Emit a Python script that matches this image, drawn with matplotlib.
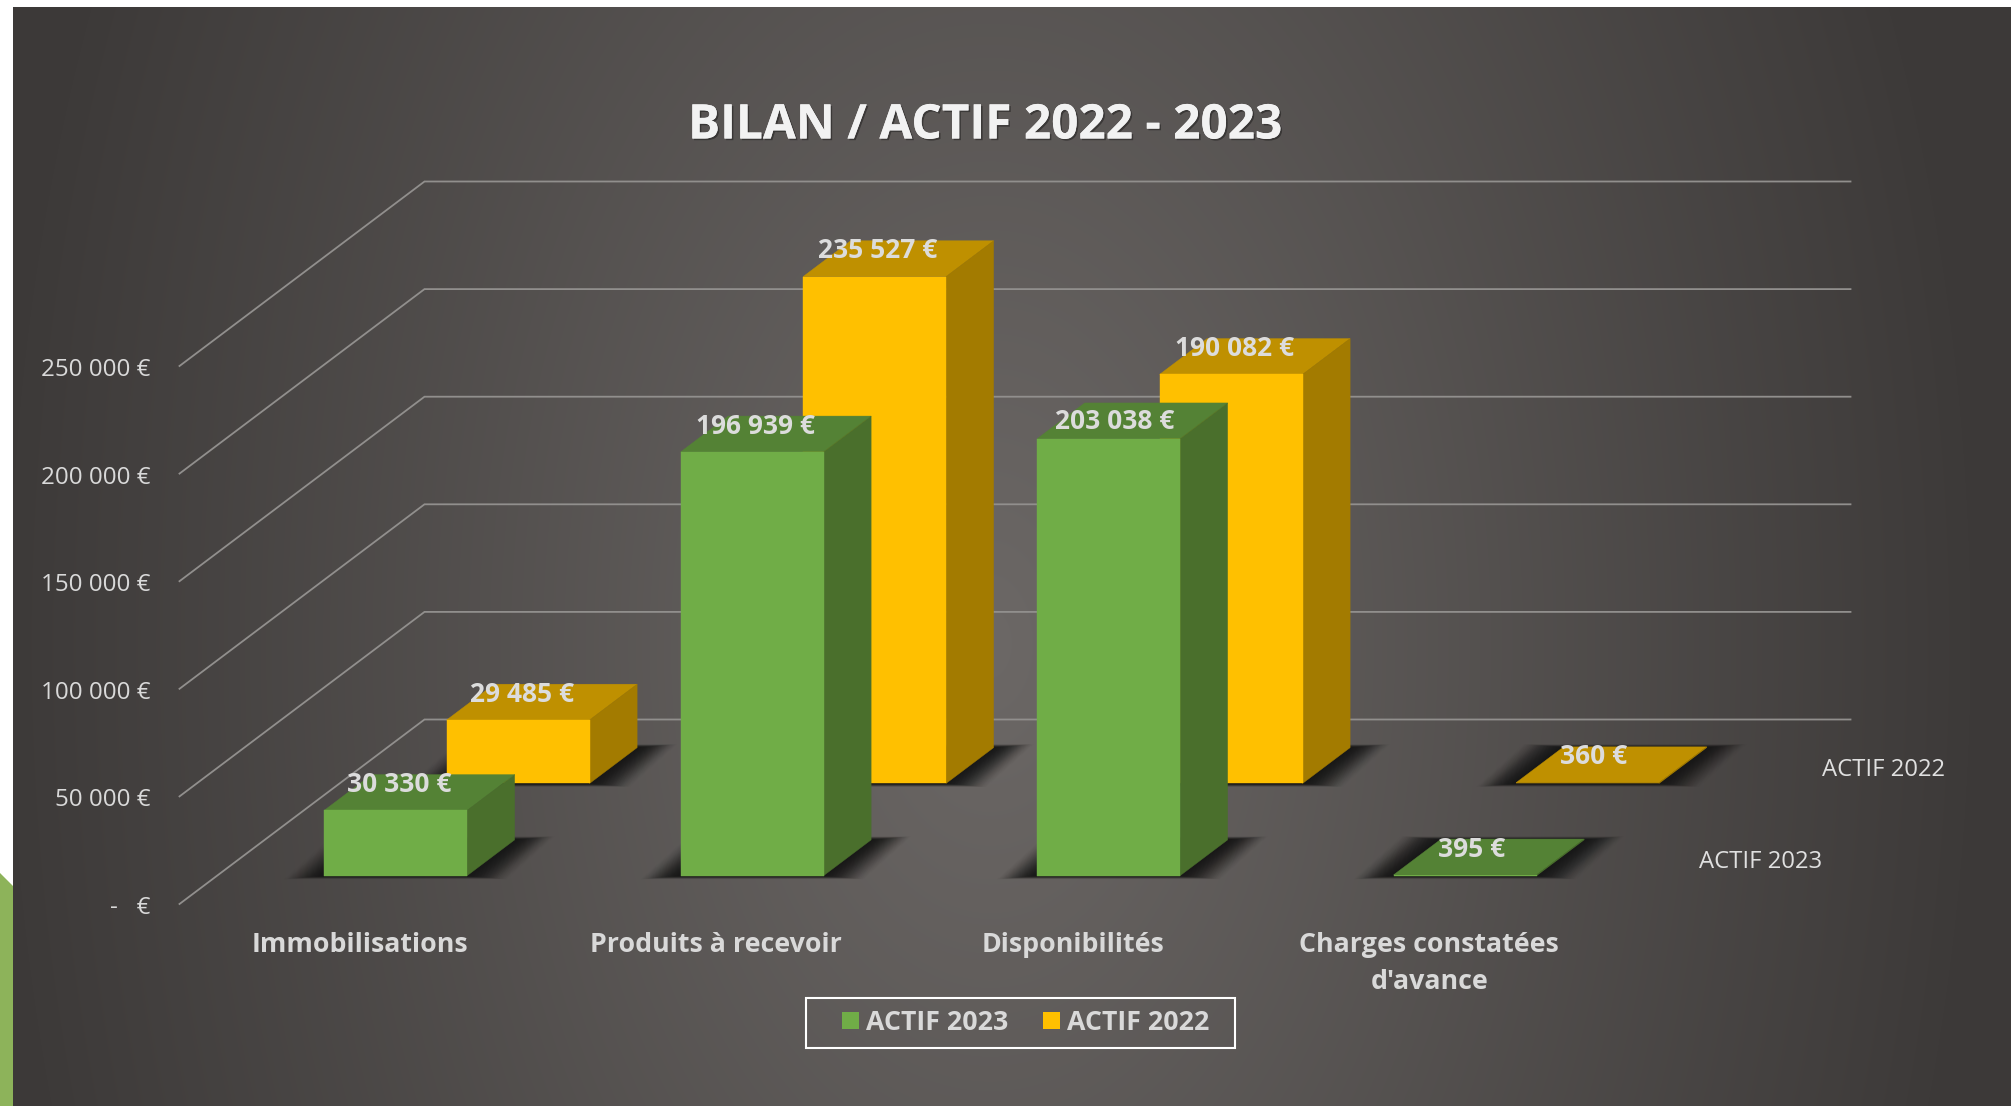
import numpy as np
import matplotlib
matplotlib.use('Agg')
from matplotlib import pyplot as plt
from matplotlib import patheffects
from matplotlib.patches import Patch, Polygon, Rectangle

categories = ['Immobilisations', 'Produits à recevoir', 'Disponibilités', "Charges constatées\nd'avance"]
actif_2023 = [30330, 196939, 203038, 395]
actif_2022 = [29485, 235527, 190082, 360]
labels_2023 = ['30 330 €', '196 939 €', '203 038 €', '395 €']
labels_2022 = ['29 485 €', '235 527 €', '190 082 €', '360 €']
y_ticks = [0, 50000, 100000, 150000, 200000, 250000]
y_tick_labels = ['-   €', '50 000 €', '100 000 €', '150 000 €', '200 000 €', '250 000 €']

W, H = 2011, 1106
PX_X = 356.5             # px per category
PX_Y = 107.6 / 50000     # px per euro
X0, Y0 = 179.5, 904      # where the front edge of the floor starts

DEPTH_X = 245 / PX_X     # wall offset, data units
DEPTH_Y = 184.5 / PX_Y
BAR_W = 0.401
BAR_D = 0.195


def proj(x, v, d):
    return x + d * DEPTH_X, v + d * DEPTH_Y


def px(x, y):
    return (x - X0) / PX_X, (Y0 - y) / PX_Y


def draw_bar(ax, cat, value, row, front, top, side):
    x = cat + 0.5 - BAR_W / 2 + 0.25 / PX_X
    d0 = row - BAR_D / 2 + 0.001
    d1 = row + BAR_D / 2
    # blurred floor shadow, stacked polygons, fainter towards the outside
    for k in range(30):
        ex = (40 - 1.3 * k) / PX_X
        ey = (3.5 - 0.12 * k) / PX_Y
        pts = [proj(x - ex, -ey, d0), proj(x + BAR_W + ex, -ey, d0),
               proj(x + BAR_W + ex, ey, d1), proj(x - ex, ey, d1)]
        ax.add_patch(Polygon(pts, closed=True, fc='#181818', ec='none', alpha=0.015 + 0.005 * k, zorder=2))
    ax.add_patch(Polygon([proj(x, value, d0), proj(x + BAR_W, value, d0),
                          proj(x + BAR_W, value, d1), proj(x, value, d1)],
                         closed=True, fc=top, ec=top, lw=0.3, zorder=3))
    ax.add_patch(Polygon([proj(x + BAR_W, 0, d0), proj(x + BAR_W, 0, d1),
                          proj(x + BAR_W, value, d1), proj(x + BAR_W, value, d0)],
                         closed=True, fc=side, ec=side, lw=0.3, zorder=3))
    ax.add_patch(Polygon([proj(x, 0, d0), proj(x + BAR_W, 0, d0),
                          proj(x + BAR_W, value, d0), proj(x, value, d0)],
                         closed=True, fc=front, ec=front, lw=0.3, zorder=3))


fig = plt.figure(figsize=(W / 100, H / 100), dpi=100, facecolor='white')
plt.rcParams['font.family'] = ['Open Sans', 'DejaVu Sans']
ax = fig.add_axes([0, 0, 1, 1])
xlim = (-X0 / PX_X, (W - X0) / PX_X)
ylim = ((Y0 - H) / PX_Y, Y0 / PX_Y)
ax.axis('off')

# panel background
yy, xx = np.mgrid[0:H, 0:W]
r = np.minimum(np.hypot((xx - 990) / 980, (yy - 643) / 1584), 1.0)[..., None]
grad = np.array([0x6c, 0x68, 0x66]) * (1 - r) + np.array([0x3d, 0x3a, 0x39]) * r
grad = grad / 255.0
grad[:7, :] = 1.0
grad[:, :13] = 1.0
ax.imshow(grad, extent=xlim + ylim, aspect='auto', zorder=0, origin='upper')
ax.set_xlim(xlim)
ax.set_ylim(ylim)

# left edge accent
ax.add_patch(Polygon([px(0, 873), px(13, 886), px(13, H), px(0, H)],
                     closed=True, fc='#8db35a', ec='none', zorder=1))

# walls
n = len(categories)
for v in y_ticks:
    xs = [0, DEPTH_X, n + DEPTH_X]
    ys = [v, v + DEPTH_Y, v + DEPTH_Y]
    ax.plot(xs, ys, color='#918f8d', lw=1.3, zorder=1, solid_joinstyle='miter')

for v, lab in zip(y_ticks, y_tick_labels):
    ax.text(-29 / PX_X, v - 4 / PX_Y, lab, ha='right', va='center', fontsize=17.4, color='#d9d9d9', zorder=6)

# back row then front row
for i in range(n):
    draw_bar(ax, i, actif_2022[i], 0.75, '#ffc000', '#bf9000', '#a37b00')
for i in range(n):
    draw_bar(ax, i, actif_2023[i], 0.25, '#70ad47', '#548235', '#4a6f2c')

for i in range(n):
    for val, lab, row in ((actif_2022[i], labels_2022[i], 0.75), (actif_2023[i], labels_2023[i], 0.25)):
        x, y = proj(i + 0.5, val, row - BAR_D / 2)
        dx, dy = 4, 26
        if lab == '203 038 €':
            dx, dy = 7, 17.5  # this one sits lower on the top face
        elif val < 1000:
            dx = 7
        ax.text(x + dx / PX_X, y + dy / PX_Y, lab, ha='center', va='center', fontsize=19,
                fontweight='bold', color='#dcdcdc', zorder=7)
    ax.text(i + 0.5 + 2 / PX_X, -28 / PX_Y, categories[i], ha='center', va='top', fontsize=19.3,
            fontweight='bold', color='#d9d9d9', linespacing=1.54, zorder=6)

# series axis labels
ax.text(*px(1884, 770), 'ACTIF 2022', ha='center', va='center', fontsize=17.2, color='#e0e0e0', zorder=6)
ax.text(*px(1761, 862), 'ACTIF 2023', ha='center', va='center', fontsize=17.2, color='#e0e0e0', zorder=6)

title = ax.text(*px(985, 126), 'BILAN / ACTIF 2022 - 2023', ha='center', va='center',
                fontsize=34.4, fontweight='bold', color='#f2f2f2', zorder=6)
title.set_path_effects([patheffects.withSimplePatchShadow(offset=(1.2, -1.2), alpha=0.35, shadow_rgbFace='#000000'),
                        patheffects.Normal()])

# legend box is not centred on its entries in the reference, so it gets its own frame
ax.add_patch(Rectangle(px(806, 1048), 429 / PX_X, 50 / PX_Y, fc='none', ec='white', lw=1.5, zorder=8))
handles = [Patch(fc='#70ad47', ec='none', label='ACTIF 2023'), Patch(fc='#ffc000', ec='none', label='ACTIF 2022')]
leg = ax.legend(handles=handles, ncol=2, loc='center', bbox_to_anchor=(1025.5 / W, 1 - 1023 / H),
                frameon=False, prop={'size': 19.3, 'weight': 'bold'}, labelcolor='#d9d9d9',
                handlelength=0.64, handleheight=0.64, handletextpad=0.27, columnspacing=1.28, borderpad=0)
leg.set_zorder(8)

fig.savefig('out.png', dpi=100)
